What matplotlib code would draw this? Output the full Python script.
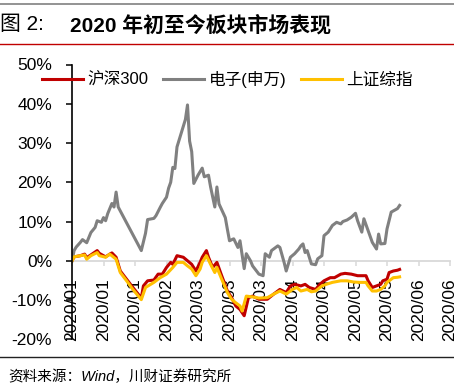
import matplotlib
matplotlib.use("Agg")
import numpy as np
import pandas as pd
import matplotlib.pyplot as plt
import matplotlib.dates as mdates
from matplotlib.lines import Line2D
from matplotlib.ticker import PercentFormatter

plt.rcParams['font.family'] = ['Liberation Sans', 'Noto Sans CJK SC', 'DejaVu Sans']
plt.rcParams['axes.unicode_minus'] = False

# 2020年初至今涨跌幅(%)，读图估计
dz_dates = ["01-01", "01-02", "01-03", "01-05", "01-06", "01-08", "01-09", "01-10", "01-12", "01-13",
            "01-15", "01-16", "01-17", "01-18", "01-19", "01-20", "01-21", "01-22", "01-23", "02-03",
            "02-05", "02-06", "02-09", "02-10", "02-12", "02-13", "02-15", "02-16", "02-17", "02-18",
            "02-19", "02-20", "02-22", "02-24", "02-25", "02-26", "02-27", "02-28", "03-01", "03-03",
            "03-04", "03-06", "03-07", "03-09", "03-10", "03-11", "03-14", "03-15", "03-16", "03-18",
            "03-20", "03-21", "03-23", "03-24", "03-26", "03-27", "03-30", "04-01", "04-02", "04-04",
            "04-05", "04-08", "04-09", "04-11", "04-12", "04-14", "04-16", "04-18", "04-19", "04-20",
            "04-21", "04-22", "04-24", "04-26", "04-27", "04-29", "04-30", "05-02", "05-04", "05-06",
            "05-08", "05-09", "05-11", "05-13", "05-15", "05-16", "05-18", "05-19", "05-21", "05-23",
            "05-25", "05-26", "05-27", "05-29", "05-30", "06-01", "06-04", "06-05"]
dz_vals = [0.0, 2.6, 3.5, 4.7, 5.4, 4.6, 5.9, 7.2, 8.5, 10.2,
           9.8, 11.0, 10.2, 12.0, 13.3, 14.6, 13.7, 17.5, 13.7, 2.6,
           7.0, 10.5, 10.8, 11.5, 13.6, 14.6, 16.2, 18.5, 20.0, 23.8,
           23.5, 29.0, 32.5, 36.0, 39.7, 30.5, 27.8, 19.7, 21.8, 23.6,
           21.4, 21.8, 18.8, 13.7, 18.8, 14.5, 11.0, 8.0, 5.1, 5.6,
           3.4, 5.1, -2.0, 1.8, 0.0, -1.3, -3.4, -3.8, 1.8, 0.9,
           2.6, 3.8, 3.4, -0.4, -2.6, 0.9, 1.8, 3.0, 3.8, 4.3,
           2.1, 2.6, -0.8, -1.0, 0.5, 1.3, 6.4, 7.3, 9.0, 9.8,
           9.4, 10.0, 10.4, 11.1, 12.1, 10.2, 7.3, 10.7, 7.7, 4.7,
           3.0, 6.8, 4.3, 4.4, 8.1, 12.4, 13.3, 14.1]

hs_dates = ["01-01", "01-02", "01-05", "01-07", "01-08", "01-10", "01-13", "01-14", "01-17", "01-19",
            "01-20", "01-22", "01-24", "01-27", "01-30", "02-03", "02-04", "02-06", "02-09", "02-11",
            "02-13", "02-15", "02-17", "02-18", "02-20", "02-23", "02-25", "02-27", "02-29", "03-02",
            "03-03", "03-05", "03-06", "03-08", "03-10", "03-12", "03-15", "03-17", "03-19", "03-21",
            "03-23", "03-25", "03-27", "03-30", "04-03", "04-06", "04-09", "04-12", "04-14", "04-16",
            "04-19", "04-21", "04-23", "04-26", "04-28", "04-30", "05-03", "05-05", "05-08", "05-10",
            "05-13", "05-16", "05-17", "05-20", "05-21", "05-23", "05-25", "05-27", "05-28", "05-30",
            "05-31", "06-02", "06-04", "06-05"]
hs_vals = [0.0, 1.0, 1.3, 1.7, 0.8, 1.5, 2.6, 1.9, 1.0, 1.7,
           2.0, 0.9, -2.6, -4.7, -6.8, -9.5, -6.4, -5.1, -4.9, -3.4,
           -3.4, -1.7, -0.4, -0.9, 1.3, 0.9, 0.0, -0.9, -2.6, -0.4,
           0.9, 2.6, 0.9, -1.7, -0.4, -3.4, -7.7, -9.4, -11.5, -12.4,
           -14.0, -9.4, -9.0, -9.8, -9.8, -8.5, -7.3, -8.1, -6.4, -6.0,
           -6.4, -6.0, -6.8, -7.3, -6.0, -5.1, -4.3, -4.3, -3.4, -3.2,
           -3.4, -3.8, -3.8, -3.8, -5.1, -6.8, -6.4, -6.0, -5.1, -4.7,
           -3.0, -2.6, -2.4, -2.2]

sz_dates = ["01-01", "01-02", "01-07", "01-08", "01-10", "01-13", "01-14", "01-17", "01-19", "01-22",
            "01-24", "01-27", "01-30", "02-03", "02-05", "02-09", "02-12", "02-15", "02-18", "02-20",
            "02-23", "02-25", "02-27", "02-29", "03-02", "03-03", "03-05", "03-07", "03-09", "03-10",
            "03-12", "03-15", "03-17", "03-19", "03-21", "03-22", "03-24", "03-27", "03-30", "04-03",
            "04-06", "04-09", "04-12", "04-15", "04-17", "04-19", "04-22", "04-24", "04-26", "04-29",
            "05-01", "05-04", "05-08", "05-11", "05-14", "05-17", "05-20", "05-21", "05-23", "05-25",
            "05-27", "05-29", "05-30", "06-01", "06-02", "06-04", "06-05"]
sz_vals = [0.0, 1.0, 1.5, 0.4, 1.3, 2.1, 1.3, 0.9, 1.7, 0.4,
           -3.0, -5.1, -7.3, -9.9, -6.8, -5.5, -4.3, -3.4, -1.7, -0.4,
           -0.4, -1.3, -2.1, -3.8, -2.1, -0.4, 1.3, -0.9, -3.0, -1.7,
           -4.3, -8.1, -9.8, -10.7, -11.5, -12.8, -9.0, -9.2, -9.5, -9.4,
           -8.5, -7.7, -8.5, -7.3, -6.8, -7.7, -7.3, -7.9, -7.7, -6.4,
           -6.0, -5.5, -5.1, -5.1, -5.4, -5.5, -5.5, -6.4, -7.7, -7.7,
           -7.3, -6.4, -5.5, -4.7, -4.3, -4.2, -4.1]

series = [
    ("沪深300", hs_dates, hs_vals, "#C00000"),
    ("电子(申万)", dz_dates, dz_vals, "#808080"),
    ("上证综指", sz_dates, sz_vals, "#FFC000"),
]

fig = plt.figure(figsize=(4.54, 3.9), dpi=100)
ax = fig.add_axes([72 / 454, 1 - 339.3 / 390, 378 / 454, (339.3 - 64.5) / 390])

handles = []
for name, d, v, c in series:
    x = pd.to_datetime(["2020-" + s for s in d])
    ln, = ax.plot(x, v, color=c, lw=2.2, label=name, solid_joinstyle="round")
    handles.append(ln)

start = pd.Timestamp("2020-01-01")
ticks = [start + pd.Timedelta(days=15 * k) for k in range(13)]
ax.set_xticks(ticks)
ax.xaxis.set_major_formatter(mdates.DateFormatter("%Y/%m"))
ax.set_xlim(start, ticks[-1])
ax.set_ylim(-20, 50)
ax.set_yticks(np.arange(-20, 51, 10))
ax.yaxis.set_major_formatter(PercentFormatter(xmax=100, decimals=0))

for s in ["top", "right"]:
    ax.spines[s].set_visible(False)
ax.spines["bottom"].set_position(("data", 0))
ax.spines["bottom"].set_color("#D9D9D9")
ax.spines["bottom"].set_linewidth(1.3)
ax.spines["left"].set_linewidth(1.2)
ax.spines["bottom"].set_zorder(0.5)

ax.tick_params(axis="y", direction="out", length=4.3, width=1.1, pad=10, labelsize=12.5)
ax.tick_params(axis="x", direction="out", length=3.6, width=1.1, color="#D9D9D9",
               pad=9, labelsize=12.5, labelrotation=90)

fig.legend(handles=handles, loc="center left", bbox_to_anchor=(42 / 454, 1 - 79 / 390),
           ncol=3, frameon=False, fontsize=12, handlelength=2.45, handletextpad=0.3,
           columnspacing=0.85, borderpad=0, borderaxespad=0)

# 标题与分隔线
fig.text(0.0, 1 - 25 / 390, "图 2:", fontsize=15, va="center", ha="left")
fig.text(70 / 454, 1 - 25 / 390, "2020 年初至今板块市场表现", fontsize=15,
         weight="bold", va="center", ha="left")
fig.add_artist(Line2D([0, 1], [1 - 4 / 390] * 2, color="#808080", lw=1.2))
fig.add_artist(Line2D([0, 1], [1 - 44 / 390] * 2, color="#C00000", lw=1.0))
fig.add_artist(Line2D([0, 1], [1 - 357 / 390] * 2, color="#222222", lw=1.0))
fig.text(8 / 454, 1 - 377 / 390, "资料来源：Wind，川财证券研究所", fontsize=10.5,
         va="center", ha="left", style="italic")

fig.savefig("out.png", dpi=100)
